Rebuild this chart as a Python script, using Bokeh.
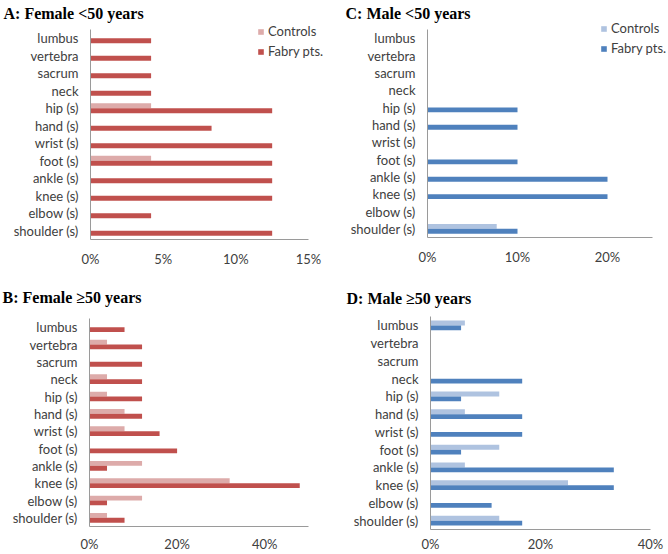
from bokeh.plotting import figure
from bokeh.models import (ColumnDataSource, Range1d, FixedTicker,
                          PrintfTickFormatter, Legend, LegendItem)
from bokeh.transform import dodge
from bokeh.layouts import column, row
from bokeh.embed import file_html
from bokeh.resources import INLINE

# ---------------- data (percent of subjects) ----------------
categories = ["lumbus", "vertebra", "sacrum", "neck", "hip (s)", "hand (s)",
              "wrist (s)", "foot (s)", "ankle (s)", "knee (s)", "elbow (s)",
              "shoulder (s)"]

A_controls = [0, 0, 0, 0, 4.17, 0, 0, 4.17, 0, 0, 0, 0]
A_fabry = [4.17, 4.17, 4.17, 4.17, 12.5, 8.33, 12.5, 12.5, 12.5, 12.5, 4.17, 12.5]

C_controls = [0, 0, 0, 0, 0, 0, 0, 0, 0, 0, 0, 7.69]
C_fabry = [0, 0, 0, 0, 10, 10, 0, 10, 20, 20, 0, 10]

B_controls = [0, 4, 0, 4, 4, 8, 8, 0, 12, 32, 12, 4]
B_fabry = [8, 12, 12, 12, 12, 12, 16, 20, 4, 48, 4, 8]

D_controls = [6.25, 0, 0, 0, 12.5, 6.25, 0, 12.5, 6.25, 25, 0, 12.5]
D_fabry = [5.56, 0, 0, 16.67, 5.56, 16.67, 16.67, 5.56, 33.33, 33.33, 11.11, 16.67]

A_ticks = [0, 5, 10, 15]
C_ticks = [0, 10, 20]
B_ticks = [0, 20, 40]
D_ticks = [0, 20, 40]
A_max, C_max, B_max, D_max = 15, 25, 50, 40

series_names = ["Controls", "Fabry pts."]

RED = "#C0504D"
PINK = "#DDABAA"
BLUE = "#4F81BD"
LBLUE = "#AFC3E0"
AXIS = "#9A9A9A"
TXT = "#404040"
TICK_FONT = "Lato"

n = len(categories)
ypos = [n - 1 - i for i in range(n)]          # lumbus on top
y_lo, y_hi = -0.5, n - 0.5


def make_panel(title, controls, fabry, axis_max, view_max, ticks, c_light, c_dark,
               borders, std_x, title_offset, title_valign, title_standoff,
               y_view_hi, legend_loc=None):
    left, right, top, bottom = borders
    W, H = 334, 277
    p = figure(width=W, height=H, output_backend="svg", toolbar_location=None,
               y_range=Range1d(y_lo, y_view_hi),
               x_range=Range1d(0, view_max),
               min_border_left=left, min_border_right=right,
               min_border_top=top, min_border_bottom=bottom)
    p.outline_line_color = None
    p.xgrid.visible = False
    p.ygrid.visible = False
    p.background_fill_color = "white"
    p.border_fill_color = "white"

    p.title.text = title
    p.title.text_font = "Liberation Serif"
    p.title.text_font_style = "bold"
    p.title.text_font_size = "16px"
    p.title.text_color = "black"
    p.title.align = "left"
    p.title.offset = title_offset
    p.title.standoff = title_standoff
    p.title.vertical_align = title_valign

    src = ColumnDataSource(dict(y=ypos, cat=categories, controls=controls, fabry=fabry))
    r1 = p.hbar(y=dodge("y", 0.14), right="controls", left=0,
                height=0.28, source=src, fill_color=c_light, line_color=None)
    r2 = p.hbar(y=dodge("y", -0.14), right="fabry", left=0,
                height=0.28, source=src, fill_color=c_dark, line_color=None)

    for ax in (p.xaxis[0], p.yaxis[0]):
        ax.axis_line_color = AXIS
        ax.axis_line_width = 1
        ax.major_tick_line_color = None
        ax.minor_tick_line_color = None
        ax.major_tick_out = 0
        ax.major_tick_in = 0
        ax.major_label_text_font = TICK_FONT
        ax.major_label_text_font_size = "13px"
        ax.major_label_text_color = TXT
    p.xaxis.ticker = FixedTicker(ticks=ticks)
    p.xaxis.formatter = PrintfTickFormatter(format="%d%%")
    p.xaxis.major_label_standoff = std_x
    p.xaxis.bounds = (0, axis_max)

    p.yaxis.ticker = FixedTicker(ticks=ypos)
    p.yaxis.major_label_overrides = {int(v): c for v, c in zip(ypos, categories)}
    p.yaxis.major_label_standoff = 12
    p.yaxis.bounds = (y_lo, y_hi)

    if legend_loc is not None:
        leg = Legend(items=[LegendItem(label=series_names[0], renderers=[r1]),
                            LegendItem(label=series_names[1], renderers=[r2])],
                     location=legend_loc, orientation="vertical",
                     padding=0, margin=0, spacing=4,
                     glyph_width=7, glyph_height=7, label_standoff=4,
                     label_height=16,
                     label_text_font=TICK_FONT, label_text_font_size="13px",
                     label_text_color=TXT, border_line_color=None,
                     background_fill_alpha=0)
        p.add_layout(leg, "center")
    return p


# A: frame x 90..326 (axis 0..15 ends at 308); frame y 21..239 (axis top 29)
pA = make_panel("A: Female <50 years", A_controls, A_fabry, A_max,
                A_max * 236 / 218, A_ticks, PINK, RED, (90, 8, 21, 38), 11,
                title_offset=-87, title_valign="bottom", title_standoff=0,
                y_view_hi=y_lo + n * 218 / 210, legend_loc=(167, 180))
# C: frame x 93..334 (axis 0..25 ends at 318); frame y 21..237 (axis top 29)
pC = make_panel("C: Male <50 years", C_controls, C_fabry, C_max,
                C_max * 241 / 225, C_ticks, LBLUE, BLUE, (93, 0, 21, 40), 11,
                title_offset=-82, title_valign="bottom", title_standoff=0,
                y_view_hi=y_lo + n * 216 / 208, legend_loc=(173, 181))
pB = make_panel("B: Female \u226550 years", B_controls, B_fabry, B_max, B_max,
                B_ticks, PINK, RED, (89, 26, 41, 27), 9,
                title_offset=-87, title_valign="top", title_standoff=21,
                y_view_hi=y_hi)
pD = make_panel("D: Male \u226550 years", D_controls, D_fabry, D_max, D_max,
                D_ticks, LBLUE, BLUE, (96, 18, 39, 24), 6,
                title_offset=-84, title_valign="top", title_standoff=15,
                y_view_hi=y_hi)

layout = column(row(column(pA), column(pC), spacing=0),
                row(column(pB), column(pD), spacing=0), spacing=0)

open("out.html", "w").write(file_html(layout, INLINE))
